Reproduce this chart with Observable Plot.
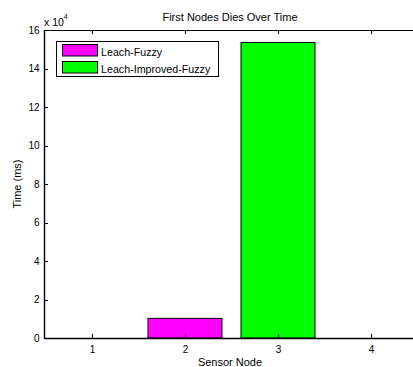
<!DOCTYPE html>
<html><head><meta charset="utf-8">
<script src="https://cdn.jsdelivr.net/npm/d3@7"></script>
<script src="https://cdn.jsdelivr.net/npm/@observablehq/plot@0.6"></script>
<style>
html,body{margin:0;padding:0;background:#fff;overflow:hidden;}
#chart{width:413px;height:367px;overflow:hidden;position:relative;}
</style>
</head><body><div id="chart"></div>
<script>
const nodes = [1, 2, 3, 4];
const seriesNames = ["Leach-Fuzzy", "Leach-Improved-Fuzzy"];
const seriesColors = ["#ff00ff", "#00ff00"];
const leachFuzzy = [0, 10200, 0, 0];
const leachImprovedFuzzy = [0, 0, 153500, 0];
const yTicks = [0, 20000, 40000, 60000, 80000, 100000, 120000, 140000, 160000];
const titleText = "First Nodes Dies Over Time";
const xLabel = "Sensor Node";
const yLabel = "Time (ms)";

const rows = [];
[leachFuzzy, leachImprovedFuzzy].forEach((vals, s) => {
  vals.forEach((v, i) => { if (v > 0) rows.push({node: nodes[i], series: seriesNames[s], value: v}); });
});

const font = "Arial, 'Liberation Sans', Helvetica, sans-serif";
const plot = Plot.plot({
  width: 419, height: 367,
  marginLeft: 44, marginRight: 0, marginTop: 30, marginBottom: 29,
  style: {fontFamily: font, fontSize: "10px", color: "#000", background: "#fff", maxWidth: "none", overflow: "hidden"},
  x: {type: "band", domain: nodes, paddingInner: 0.2, paddingOuter: 0.1, align: 0.5, label: null},
  y: {domain: [0, 160000], label: null},
  color: {domain: seriesNames, range: seriesColors},
  marks: [
    Plot.barY(rows, {x: "node", y: "value", fill: "series", stroke: "#000", strokeWidth: 1}),
    Plot.ruleY([160000], {stroke: "#000", strokeWidth: 1}),
    Plot.ruleY([0], {stroke: "#000", strokeWidth: 1.6}),
    Plot.axisX(nodes, {anchor: "bottom", tickSize: 0, tickPadding: 7, label: null}),
    Plot.axisY(yTicks, {anchor: "left", tickSize: 0, tickPadding: 5, tickFormat: d => d / 1e4, label: null})
  ]
});
document.getElementById("chart").appendChild(plot);

const svg = d3.select(plot);
const xs = plot.scale("x");
const ys = plot.scale("y");
const y0 = ys.apply(0), yTop = ys.apply(160000);
const xLeft = xs.range[0];
const bw = xs.bandwidth || 0;
svg.append("line").attr("x1", xLeft + 0.5).attr("x2", xLeft + 0.5)
  .attr("y1", y0).attr("y2", yTop).attr("stroke", "#000").attr("stroke-width", 1.4);
// inward ticks
const tg = svg.append("g").attr("stroke", "#000").attr("stroke-width", 1);
nodes.forEach(n => {
  const cx = Math.round(xs.apply(n) + bw / 2) + 0.5;
  tg.append("line").attr("x1", cx).attr("x2", cx).attr("y1", y0).attr("y2", y0 - 4);
  tg.append("line").attr("x1", cx).attr("x2", cx).attr("y1", yTop).attr("y2", yTop + 4);
});
yTicks.forEach(t => {
  const cy = Math.round(ys.apply(t)) + 0.5;
  tg.append("line").attr("x1", xLeft).attr("x2", xLeft + 4).attr("y1", cy).attr("y2", cy);
});

const addText = (x, y, t, size, anchor) =>
  svg.append("text").attr("x", x).attr("y", y).attr("font-family", font)
    .attr("font-size", size).attr("text-anchor", anchor).attr("fill", "#000").text(t);
addText(230, 21, titleText, "11px", "middle");
addText(230, 366, xLabel, "11px", "middle");
svg.append("text").attr("transform", "translate(21,184) rotate(-90)")
  .attr("font-family", font).attr("font-size", "11px").attr("text-anchor", "middle").attr("fill", "#000").text(yLabel);
const exp = svg.append("text").attr("x", 44).attr("y", 26).attr("font-family", font)
  .attr("font-size", "10.5px").attr("text-anchor", "start").attr("fill", "#000");
exp.append("tspan").text("x 10");
exp.append("tspan").attr("font-size", "7px").attr("dy", -7).text("4");

const lg = svg.append("g");
lg.append("rect").attr("x", 56.5).attr("y", 41.5).attr("width", 162).attr("height", 35)
  .attr("fill", "#fff").attr("stroke", "#000");
seriesNames.forEach((name, i) => {
  lg.append("rect").attr("x", 62.5).attr("y", 44.5 + i * 17).attr("width", 35).attr("height", 11.5)
    .attr("fill", seriesColors[i]).attr("stroke", "#000");
  lg.append("text").attr("x", 101).attr("y", 55.5 + i * 17).attr("font-family", font)
    .attr("font-size", "10.7px").attr("text-anchor", "start").attr("fill", "#000").text(name);
});
</script></body></html>
